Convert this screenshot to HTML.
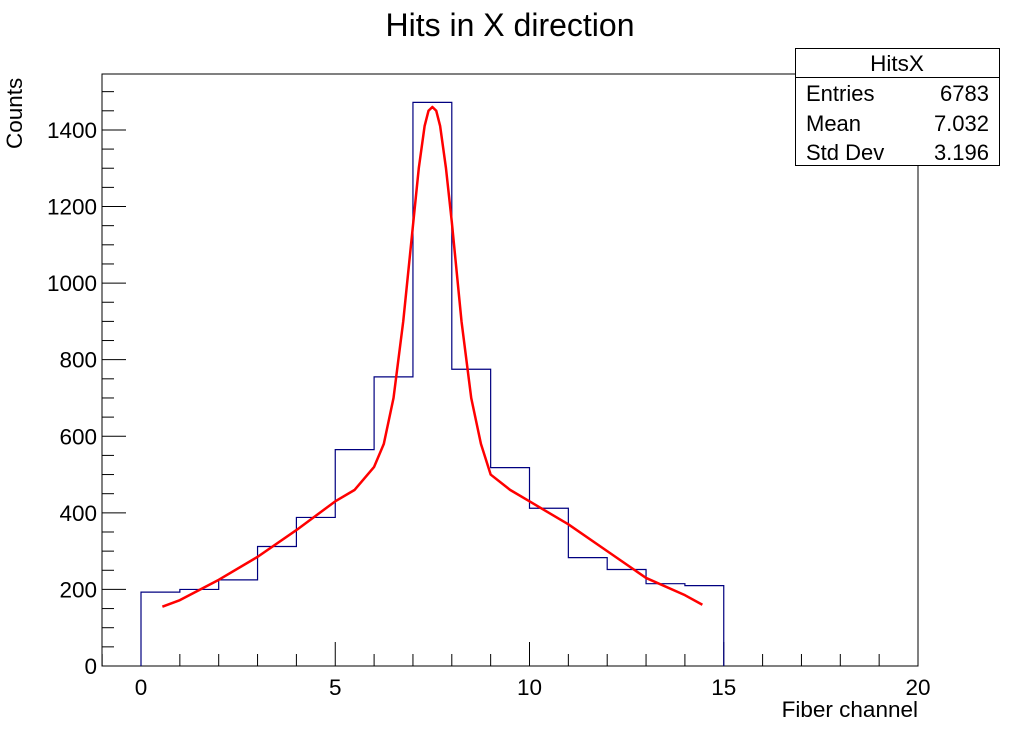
<!DOCTYPE html>
<html><head><meta charset="utf-8"><style>
html,body{margin:0;padding:0;background:#fff;}
svg{display:block;font-family:"Liberation Sans",sans-serif;}
</style></head><body>
<svg id="chart" width="1020" height="740" viewBox="0 0 1020 740">
<text x="510" y="36" font-size="32" text-anchor="middle">Hits in X direction</text>
<rect x="102" y="74" width="816" height="592" fill="none" stroke="#000" stroke-width="1"/>
<g id="axes"></g>
<path id="hist" fill="none" stroke="#000080" stroke-width="1.2"/>
<polyline id="fit" fill="none" stroke="#ff0000" stroke-width="2.5" stroke-linejoin="round"/>
<text x="918" y="717" font-size="22.5" text-anchor="end">Fiber channel</text>
<text transform="translate(22,149) rotate(-90)" font-size="22.5" text-anchor="start">Counts</text>
<g>
<rect x="795.5" y="48.5" width="204" height="117" fill="#fff" stroke="#000"/>
<line x1="795.5" y1="77.5" x2="999.5" y2="77.5" stroke="#000"/>
<text x="897" y="71" font-size="22.5" text-anchor="middle">HitsX</text>
<text x="806" y="101" font-size="22">Entries</text><text x="989" y="101" font-size="22" text-anchor="end">6783</text>
<text x="806" y="131" font-size="22">Mean</text><text x="989" y="131" font-size="22" text-anchor="end">7.032</text>
<text x="806" y="160" font-size="22">Std Dev</text><text x="989" y="160" font-size="22" text-anchor="end">3.196</text>
</g>
</svg>
<script>
const binEdges=[0,1,2,3,4,5,6,7,8,9,10,11,12,13,14,15];
const binCounts=[193,200,225,312,388,565,755,1472,775,518,412,283,252,215,210];
const fitX=[0.55,1,2,3,4,5,5.5,6,6.25,6.5,6.75,7,7.15,7.3,7.4,7.5,7.6,7.7,7.85,8,8.25,8.5,8.75,9,9.5,10,11,12,13,14,14.45];
const fitY=[155,172,225,285,355,430,460,520,580,700,900,1150,1300,1410,1450,1460,1450,1410,1300,1160,900,700,580,500,460,430,370,300,230,185,160];
const xTicks=[0,5,10,15,20];
const yTicks=[0,200,400,600,800,1000,1200,1400];
const X=v=>141+(v)*38.85;
const Y=v=>666-v*0.3829;
const ns="http://www.w3.org/2000/svg";
const ax=document.getElementById('axes');
function line(x1,y1,x2,y2,name){const l=document.createElementNS(ns,'line');l.setAttribute('x1',x1);l.setAttribute('y1',y1);l.setAttribute('x2',x2);l.setAttribute('y2',y2);l.setAttribute('stroke','#000');


ax.appendChild(l);}
function txt(x,y,s,anchor,name){const t=document.createElementNS(ns,'text');t.setAttribute('x',x);t.setAttribute('y',y);t.setAttribute('font-size','22.5');t.setAttribute('text-anchor',anchor);t.textContent=s;


ax.appendChild(t);}
for(let v=-1;v<=20;v++){const x=X(v);const major=v%5===0;line(x,666,x,666-(major?24:12),major?'x-major-tick':'x-minor-tick');}
xTicks.forEach(v=>txt(X(v),695,String(v),'middle','x-tick-label'));
for(let v=0;v<=1540;v+=50){const y=Y(v);const major=v%200===0;line(102,y,102+(major?24:12),y,major?'y-major-tick':'y-minor-tick');}
yTicks.forEach(v=>txt(97,Y(v)+8,String(v),'end','y-tick-label'));
let d='M'+X(binEdges[0])+','+Y(0);
binCounts.forEach((c,i)=>{d+=' L'+X(binEdges[i])+','+Y(c)+' L'+X(binEdges[i+1])+','+Y(c);});
d+=' L'+X(binEdges[binEdges.length-1])+','+Y(0);
document.getElementById('hist').setAttribute('d',d);
document.getElementById('fit').setAttribute('points',fitX.map((x,i)=>X(x)+','+Y(fitY[i])).join(' '));
</script>
</body></html>
